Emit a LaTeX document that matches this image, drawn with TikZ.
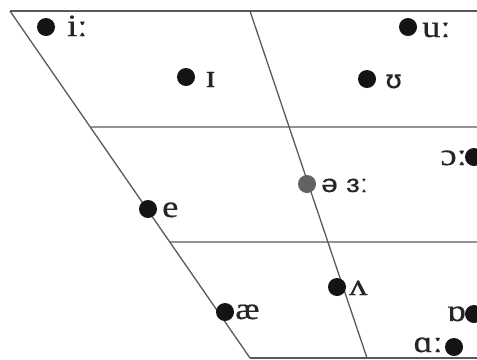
\documentclass[tikz,border=0pt]{standalone}
\usepackage{fontspec}
\setmainfont{Liberation Serif}
\newfontfamily\labfont[FakeStretch=1.18,FakeBold=0.5]{Liberation Serif}
\newfontfamily\ipasans[FakeStretch=1.2,FakeBold=0.3]{Liberation Sans}
\newfontfamily\ipadv[FakeStretch=1.1,FakeBold=0.3]{DejaVu Sans}
\usetikzlibrary{calc}
\begin{document}
\begin{tikzpicture}[x=1bp,y=-1bp,
  frame/.style={draw=black!65,line width=1.3bp},
  vdot/.style={circle,fill=black!92,inner sep=0pt,minimum size=18bp},
  gdot/.style={circle,fill=black!62,inner sep=0pt,minimum size=18bp},
  lab/.style={inner sep=0pt,font=\labfont\fontsize{31}{33}\selectfont,text=black!85},
  labs/.style={inner sep=0pt,font=\ipasans\fontsize{25}{27}\selectfont,text=black!85}]
\useasboundingbox (0,0) rectangle (477,359);
% frame corners
\coordinate (tl) at (10,11);
\coordinate (tr) at (477,11);
\coordinate (tm) at (250,11);
\coordinate (bl) at (250,358);
\coordinate (bm) at (367,358);
\coordinate (br) at (477,358);
\coordinate (h1l) at ($(tl)!0.3343!(bl)$);
\coordinate (h1r) at (477,127);
\coordinate (h2l) at ($(tl)!0.6657!(bl)$);
\coordinate (h2r) at (477,242);
\draw[frame] (tl) -- (tr);
\draw[frame] (tl) -- (bl);
\draw[frame] (tm) -- (bm);
\draw[frame] (bl) -- (br);
\draw[frame] (h1l) -- (h1r);
\draw[frame] (h2l) -- (h2r);
% vowels
\node[vdot] (i) at (46,27) {};
\node[lab,anchor=base west] (li) at (67,36) {iː};
\node[vdot] (I) at (186,77) {};
\node[lab,anchor=base west,font=\labfont\fontsize{33}{35}\selectfont] (lI) at (205,87) {ɪ};
\node[vdot] (u) at (408,27) {};
\node[lab,anchor=base west] (lu) at (422,37) {uː};
\node[vdot] (U) at (367,79) {};
\node[lab,anchor=base west,font=\ipadv\fontsize{25}{28}\selectfont] (lU) at (385,88) {ʊ};
\node[vdot] (o) at (474,157) {};
\node[lab,anchor=base east] (lo) at (467,165) {ɔː};
\node[gdot] (schwa) at (307,184) {};
\node[labs,anchor=base west] (lschwa) at (321,192) {ə ɜː};
\node[vdot] (e) at (148,209) {};
\node[lab,anchor=base west] (le) at (162,217) {e};
\node[vdot] (v) at (337,287) {};
\node[lab,anchor=base west] (lv) at (349,295) {ʌ};
\node[vdot] (ae) at (225,312) {};
\node[lab,anchor=base west] (lae) at (235,319) {æ};
\node[vdot] (O) at (474,314) {};
\node[lab,anchor=base east] (lO) at (466,321) {ɒ};
\node[vdot] (a) at (454,347) {};
\node[lab,anchor=base east] (la) at (443,352) {ɑː};
\end{tikzpicture}
\end{document}
